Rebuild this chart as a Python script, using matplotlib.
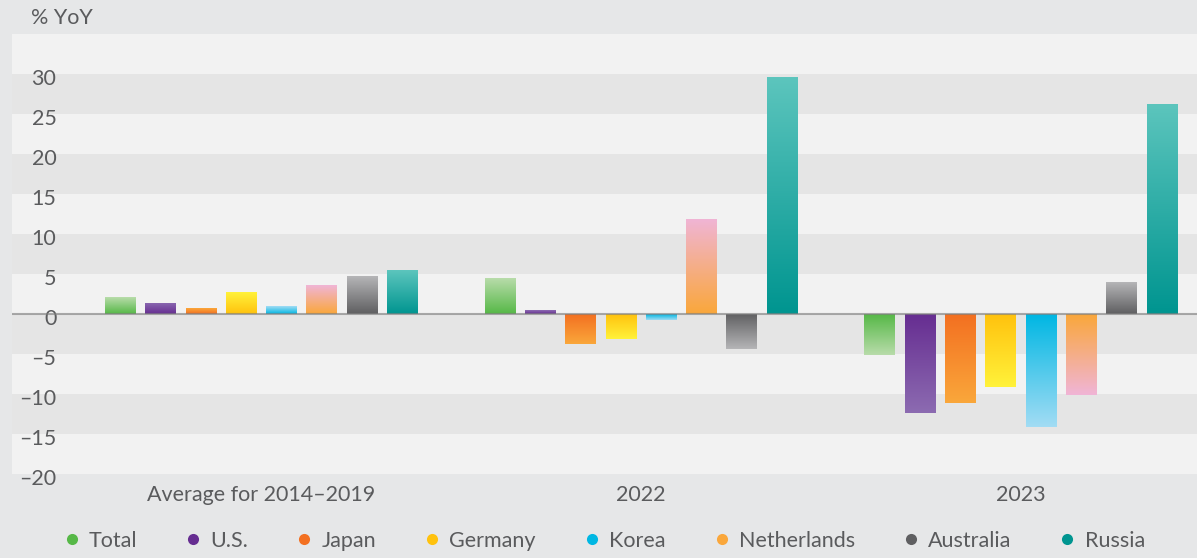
import numpy as np
import matplotlib
matplotlib.use('Agg')
from matplotlib import pyplot as plt
from matplotlib.colors import to_rgb
from matplotlib.lines import Line2D
from matplotlib.transforms import ScaledTranslation

plt.rcParams['font.family'] = ['Lato', 'DejaVu Sans']

# Данные
periods = ['Average for 2014\u20132019', '2022', '2023']
countries = ['Total', 'U.S.', 'Japan', 'Germany', 'Korea', 'Netherlands', 'Australia', 'Russia']
values = {
    'Total':       [2.1, 4.5, -5.1],
    'U.S.':        [1.4, 0.5, -12.4],
    'Japan':       [0.75, -3.75, -11.1],
    'Germany':     [2.75, -3.1, -9.1],
    'Korea':       [1.0, -0.75, -14.1],
    'Netherlands': [3.6, 11.9, -10.1],
    'Australia':   [4.75, -4.4, 4.0],
    'Russia':      [5.5, 29.6, 26.3],
}
# цвета градиента: (у нуля, на конце столбика)
colors = {
    'Total':       ('#56b847', '#b8dcaa'),
    'U.S.':        ('#662d91', '#8c6bb1'),
    'Japan':       ('#f37021', '#faa73b'),
    'Germany':     ('#ffc20e', '#fff23a'),
    'Korea':       ('#00b7e3', '#a2dcf4'),
    'Netherlands': ('#faa73b', '#f0b5d6'),
    'Australia':   ('#5f5f61', '#b5b5b7'),
    'Russia':      ('#009590', '#5cc5bd'),
}
yticks = [30, 25, 20, 15, 10, 5, 0, -5, -10, -15, -20]

text_color = '#5a5b5d'
fs = 15.5
W, H = 1197, 558
fig = plt.figure(figsize=(W / 100, H / 100), dpi=100, facecolor='#e6e7e8')
ax = fig.add_axes([12 / W, (H - 474) / H, 1 - 12 / W, (474 - 34) / H])
ax.set_facecolor('#e5e5e5')

# Полосы фона
for i, lo in enumerate(range(30, -25, -5)):
    ax.axhspan(lo, lo + 5, color='#f2f2f2' if i % 2 == 0 else '#e5e5e5', lw=0, zorder=0)

x = np.arange(len(periods))
width = 0.0816
step = 0.1061

for i, c in enumerate(countries):
    pos = x + (i - 3.5) * step
    bars = ax.bar(pos, values[c], width, color='none', lw=0, zorder=2)
    c0, c1 = np.array(to_rgb(colors[c][0])), np.array(to_rgb(colors[c][1]))
    t = np.linspace(0, 1, 100)[:, None]
    grad = (c0 * (1 - t) + c1 * t)[:, None, :]  # строка 0 - у нуля
    for rect, v in zip(bars, values[c]):
        x0 = rect.get_x()
        if v >= 0:
            img, ext = grad, (x0, x0 + width, 0, v)
        else:
            img, ext = grad[::-1], (x0, x0 + width, v, 0)
        im = ax.imshow(img, extent=ext, origin='lower', aspect='auto', zorder=2)
        im.set_clip_path(rect)

ax.axhline(0, color='#808080', alpha=0.65, lw=1.5, zorder=3)

ax.set_xlim(-0.657, 2.4635)
ax.set_ylim(-20, 35)
ax.set_xticks(x)
ax.set_xticklabels(periods)
ax.set_yticks(yticks)
ax.set_yticklabels([str(v).replace('-', '\u2013') for v in yticks])
ax.tick_params(axis='x', length=0, pad=8, labelsize=fs, labelcolor=text_color)
ax.tick_params(axis='y', length=0, pad=-32, labelsize=fs, labelcolor=text_color)
shift = ScaledTranslation(0, -2 / 72, fig.dpi_scale_trans)
for lab in ax.get_yticklabels():
    lab.set_transform(lab.get_transform() + shift)
for s in ax.spines.values():
    s.set_visible(False)

fig.text(31 / W, 1 - 18 / H, '% YoY', fontsize=fs, color=text_color, va='center', ha='left')

handles = [Line2D([], [], marker='o', ls='none', markersize=8,
                  markerfacecolor=colors[c][0], markeredgecolor='none') for c in countries]
fig.legend(handles, countries, loc='center', bbox_to_anchor=(605 / W, 1 - 541 / H), ncol=8,
           frameon=False, fontsize=fs, labelcolor=text_color, handlelength=0.6,
           handletextpad=0.5, columnspacing=2.3)

fig.savefig('out.png', dpi=100, facecolor=fig.get_facecolor())
